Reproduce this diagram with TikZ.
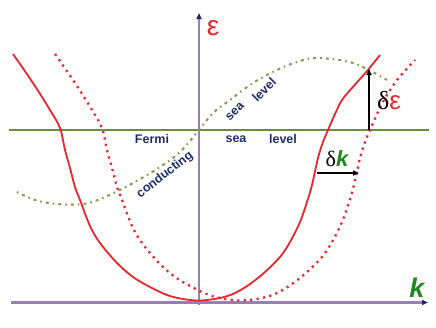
\documentclass[tikz,border=0pt]{standalone}
\usepackage{fontspec}
\setmainfont{Liberation Serif}
\setsansfont{Liberation Sans}
\usetikzlibrary{arrows.meta}
\definecolor{cred}{RGB}{232,38,44}
\definecolor{caxis}{RGB}{150,128,178}
\definecolor{cnavy}{RGB}{32,36,110}
\definecolor{cfermi}{RGB}{108,142,58}
\definecolor{cgdot}{RGB}{125,158,78}
\definecolor{ctext}{RGB}{30,45,105}
\definecolor{ck}{RGB}{30,135,30}
\begin{document}
\begin{tikzpicture}[x=1pt,y=-1pt,
  axisline/.style={draw=caxis,line width=2.2pt,-{Triangle[length=6pt,width=5pt,color=cnavy]}},
  fermiline/.style={draw=cfermi,line width=2pt},
  band/.style={draw=cred,line width=1.8pt},
  bandshift/.style={draw=cred,line width=2.3pt,dash pattern=on 2.2pt off 4.3pt},
  gdot/.style={draw=cgdot,line width=2pt,dash pattern=on 1.6pt off 4pt on 3pt off 4pt},
  lbl/.style={text=ctext,font=\sffamily\bfseries\fontsize{12.5}{12.5}\selectfont,inner sep=0pt},
  delta/.style={draw=black,line width=1.6pt,-{Triangle[length=6pt,width=5pt]}}
]
\useasboundingbox (0,0) rectangle (436,327);
% axes
\coordinate (kL) at (11,302.5);
\coordinate (kR) at (428,302.5);
\coordinate (eB) at (199,305);
\coordinate (eT) at (199,13);
\draw[axisline] (kL) -- (kR);
\draw[axisline] (eB) -- (eT);
% Fermi level
\coordinate (fL) at (9,130);
\coordinate (fR) at (429,130);
\draw[fermiline] (fL) -- (fR);
% green dotted curve
\draw[gdot] plot[smooth,tension=0.6] coordinates {(17,192) (35,200) (57,204) (83,204) (105,197) (133,183) (160,167) (180,152) (199,130) (213,113) (230,100) (253,83) (277,70) (297,62) (317,58) (353,63) (387,80)};
% solid band
\draw[band] plot[smooth,tension=0.55] coordinates {(13,54) (33,83) (50,110) (60,128) (65,150) (70,168) (75,187) (80,200) (90,226) (100,243) (117,263) (133,277) (150,287) (167,295) (183,299) (200,300.5) (220,298) (235,293) (250,284) (265,272) (280,257) (290,242) (300,222) (307,202) (312,185) (318,158) (323,142) (328,130) (335,114) (342,100) (352,88) (367,71) (380,55)};
% shifted dotted band
\draw[bandshift] plot[smooth,tension=0.55] coordinates {(55,54) (75,83) (92,110) (102,128) (107,150) (112,168) (117,187) (122,200) (132,226) (142,243) (159,263) (175,277) (192,287) (209,295) (225,299) (242,300.5) (262,298) (277,293) (292,284) (307,272) (322,257) (332,242) (342,222) (349,202) (354,185) (360,158) (365,142) (370,130) (377,114) (384,100) (397,80) (415,60)};
% delta arrows
\coordinate (deB) at (369,130);
\coordinate (deT) at (369,69);
\draw[delta] (deB) -- (deT);
\coordinate (dkL) at (317,173);
\coordinate (dkR) at (359,173);
\draw[delta] (dkL) -- (dkR);
% labels
\node[lbl] (fermi) at (152,139.5) {Fermi};
\node[lbl] (sea1) at (236,139.5) {sea};
\node[lbl] (level1) at (283,139.5) {level};
\node[lbl,rotate=38] (cond) at (165,175) {conducting};
\node[lbl,rotate=45] (sea2) at (235,112) {sea};
\node[lbl,rotate=45] (level2) at (264,90) {level};
\node[inner sep=0pt,text=cred,font=\sffamily\fontsize{28}{28}\selectfont] (eps) at (213,28) {ε};
\node[inner sep=0pt,font=\fontsize{26}{26}\selectfont] (deps) at (389,101) {δ\textcolor{cred}{\sffamily ε}};
\node[inner sep=0pt,font=\fontsize{22}{22}\selectfont] (dk) at (337,159) {δ\textcolor{ck}{\sffamily\bfseries\itshape k}};
\node[inner sep=0pt,text=ck,font=\sffamily\bfseries\itshape\fontsize{27}{27}\selectfont] (klbl) at (417,288) {k};
\end{tikzpicture}
\end{document}
